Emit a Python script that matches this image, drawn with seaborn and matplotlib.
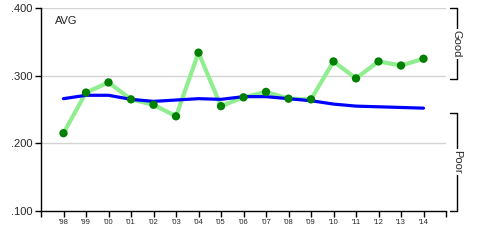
import matplotlib
matplotlib.use("Agg")
import matplotlib.pyplot as plt
import matplotlib.transforms as mtransforms
import seaborn as sns
import pandas as pd

years = list(range(1998, 2015))
player_avg = [0.215, 0.275, 0.290, 0.265, 0.257, 0.240, 0.334, 0.255, 0.268,
              0.276, 0.266, 0.265, 0.321, 0.296, 0.321, 0.315, 0.325]
league_avg = [0.266, 0.271, 0.271, 0.265, 0.262, 0.264, 0.266, 0.265, 0.269,
              0.269, 0.266, 0.263, 0.258, 0.255, 0.254, 0.253, 0.252]
year_labels = ["'98", "'99", "'00", "'01", "'02", "'03", "'04", "'05", "'06",
               "'07", "'08", "'09", "'10", "'11", "'12", "'13", "'14"]
y_ticks = [0.100, 0.200, 0.300, 0.400]
y_labels = [".100", ".200", ".300", ".400"]

df = pd.DataFrame({"year": years, "player": player_avg, "league": league_avg})

sns.set_style("white")
plt.rcParams["font.family"] = ["Arial", "Liberation Sans", "DejaVu Sans"]

fig = plt.figure(figsize=(4.9, 2.45), dpi=100)
ax = fig.add_axes([41/490, 1-211/245, (446-41)/490, (211-8)/245])

ax.set_xlim(1997, 2015)
ax.set_ylim(0.100, 0.400)
for yv in [0.200, 0.300, 0.400]:
    ax.axhline(yv, color="#d3d3d3", lw=1, zorder=0)

sns.lineplot(data=df, x="year", y="league", ax=ax, color="#0000ff", lw=2.3, zorder=3)
sns.lineplot(data=df, x="year", y="player", ax=ax, color="#90ee90", lw=3.0, zorder=2)
sns.scatterplot(data=df, x="year", y="player", ax=ax, color="#008000", s=36,
                edgecolor="none", zorder=4)

ax.set_xlabel("")
ax.set_ylabel("")
ax.set_xticks(list(range(1997, 2016)))
ax.set_xticklabels([""] + year_labels + [""], fontsize=5.5)
ax.set_yticks(y_ticks)
ax.set_yticklabels(y_labels, fontsize=8)
ax.tick_params(axis="both", direction="out", length=4, width=1, color="black",
               pad=2, left=True, bottom=True)
for s in ["top", "right"]:
    ax.spines[s].set_visible(False)
for s in ["left", "bottom"]:
    ax.spines[s].set_color("black")
    ax.spines[s].set_linewidth(1)

ax.text(55/490, 1-21/245, "AVG", transform=fig.transFigure, fontsize=8,
        va="center", ha="left", color="#222222")

trans = mtransforms.blended_transform_factory(ax.transAxes, ax.transData)
bx, tx = 1.027, 1.010
for (lo, hi, label) in [(0.295, 0.400, "Good"), (0.100, 0.245, "Poor")]:
    ax.plot([bx, bx], [lo, hi], transform=trans, color="black", lw=1, clip_on=False)
    ax.plot([tx, bx], [lo, lo], transform=trans, color="black", lw=1, clip_on=False)
    ax.plot([tx, bx], [hi, hi], transform=trans, color="black", lw=1, clip_on=False)
    ax.text(bx, (lo + hi) / 2, label, transform=trans, rotation=270, fontsize=8,
            ha="center", va="center", clip_on=False,
            bbox=dict(facecolor="white", edgecolor="none", pad=1))

fig.savefig("out.png", dpi=100)
